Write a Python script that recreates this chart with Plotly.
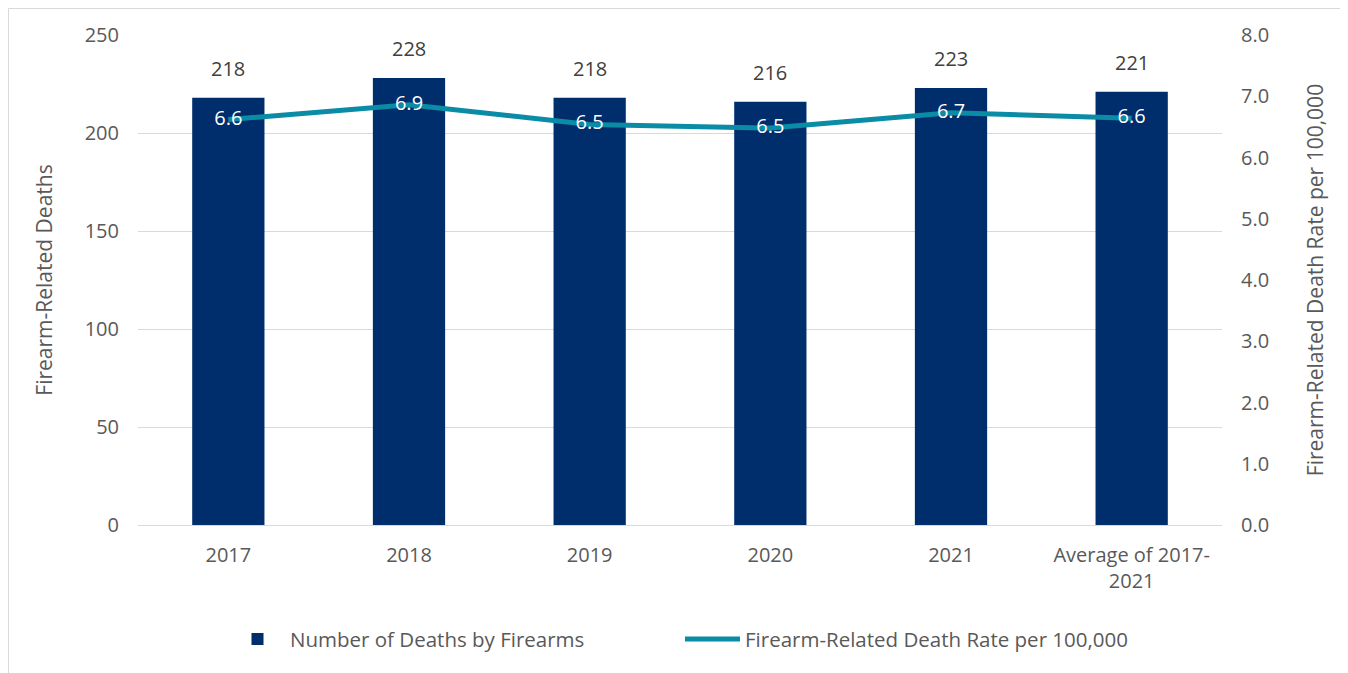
import plotly.graph_objects as go

categories = ["2017", "2018", "2019", "2020", "2021", "Average of 2017-<br>2021"]
deaths = [218, 228, 218, 216, 223, 221]
rates = [6.62, 6.86, 6.54, 6.48, 6.73, 6.64]
left_ticks = [0, 50, 100, 150, 200, 250]
right_ticks = [0, 1, 2, 3, 4, 5, 6, 7, 8]

FONT = "Open Sans"
GRAY = "#595959"
FS = 20

# page has an 8px body margin; figure is sized so the plot area lands where the reference has it
W, H = 1340, 665
L, T = 130, 27
PW, PH = 1084, 490
R = W - L - PW
B = H - T - PH

fig = go.Figure()
fig.add_trace(go.Bar(
    x=categories, y=deaths, name="Number of Deaths by Firearms",
    marker=dict(color="#002D6B", line=dict(width=0)), width=0.4,
))
fig.add_trace(go.Scatter(
    x=categories, y=rates, name="Firearm-Related Death Rate per 100,000",
    yaxis="y2", mode="lines+text",
    line=dict(color="#0A8CA6", width=5),
    text=[f"{v:.1f}" for v in rates], textposition="middle center",
    textfont=dict(family=FONT, size=FS, color="white"),
))

# bar value labels (category index on the category axis)
annotations = [
    dict(x=i, y=v, xref="x", yref="y", text=str(v), showarrow=False,
         yanchor="bottom", yshift=14, font=dict(family=FONT, size=FS, color="#404040"))
    for i, v in enumerate(deaths)
]

fig.update_layout(
    width=W, height=H,
    margin=dict(l=L, r=R, t=T, b=B, autoexpand=False),
    paper_bgcolor="white", plot_bgcolor="white",
    font=dict(family=FONT, size=FS, color=GRAY),
    showlegend=True,
    legend=dict(orientation="h", x=0.5, xanchor="center", y=-0.233, yanchor="middle",
                font=dict(family=FONT, size=20.5, color=GRAY), itemwidth=55,
                entrywidth=385),
    xaxis=dict(type="category", range=[-0.5, len(categories) - 0.5], showgrid=False,
               showline=False, ticks="", ticklabelstandoff=16,
               tickfont=dict(size=FS, color=GRAY)),
    yaxis=dict(range=[0, 250], tickvals=left_ticks, showgrid=True, gridcolor="#D9D9D9",
               gridwidth=1, zeroline=True, zerolinecolor="#D9D9D9", zerolinewidth=1,
               title=dict(text="Firearm-Related Deaths", font=dict(size=21, color=GRAY), standoff=26),
               tickfont=dict(size=FS, color=GRAY), ticks="", ticklabelstandoff=18),
    yaxis2=dict(range=[0, 8], tickvals=right_ticks, tickformat=".1f", overlaying="y", side="right",
                showgrid=False, zeroline=False, ticks="", ticklabelstandoff=18,
                title=dict(text="Firearm-Related Death Rate per 100,000", font=dict(size=21, color=GRAY), standoff=40),
                tickfont=dict(size=FS, color=GRAY)),
    annotations=annotations,
    shapes=[dict(type="rect", xref="paper", yref="paper",
                 x0=(0.5 - L) / PW, x1=(W + 20 - L) / PW,
                 y0=(PH + T - H - 20) / PH, y1=(PH + T - 0.5) / PH,
                 line=dict(color="#D9D9D9", width=1), layer="below")],
)

fig.write_html("out.html")
